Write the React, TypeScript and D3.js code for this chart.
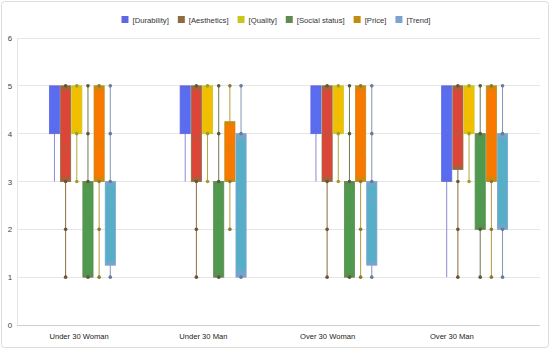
import React, { useEffect, useRef } from "react";
import * as d3 from "d3";

const groups = ["Under 30 Woman", "Under 30 Man", "Over 30 Woman", "Over 30 Man"];
const seriesNames = ["[Durability]", "[Aesthetics]", "[Quality]", "[Social status]", "[Price]", "[Trend]"];
const yTicks = [0, 1, 2, 3, 4, 5, 6];

// one row per group: [min, q1, q3, max, mean]
const durability = [[3, 4, 5, 5, 4.1], [3, 4, 5, 5, 4.2], [3, 4, 5, 5, 4.1], [1, 3, 5, 5, 3.95]];
const aesthetics = [[1, 3, 5, 5, 3.7], [1, 3, 5, 5, 3.9], [1, 3, 5, 5, 4.0], [1, 3.25, 5, 5, 4.0]];
const quality = [[3, 4, 5, 5, 4.1], [3, 4, 5, 5, 4.27], [3, 4, 5, 5, 4.27], [3, 4, 5, 5, 4.27]];
const socialStatus = [[1, 1, 3, 5, 2.15], [1, 1, 3, 5, 2.15], [1, 1, 3, 5, 2.25], [1, 2, 4, 5, 2.6]];
const price = [[1, 3, 5, 5, 3.8], [2, 3, 4.25, 5, 3.7], [1, 3, 5, 5, 3.6], [1, 3, 5, 5, 3.9]];
const trend = [[1, 1.25, 3, 5, 2.55], [1, 1, 4, 5, 2.6], [1, 1.25, 3, 5, 2.6], [1, 2, 4, 5, 2.8]];
const seriesData = [durability, aesthetics, quality, socialStatus, price, trend];

const legendColors = ["#5f68e0", "#8c6c40", "#c9c61e", "#5f8a50", "#c08c12", "#7ea2cf"];
const boxColors = ["#5a6cf0", "#dc4638", "#f4be00", "#4f9a4f", "#f87800", "#56afc6"];
const lineColors = ["#8a8ad8", "#8b6b3f", "#b2a838", "#6e7a52", "#b39a3c", "#8096b4"];
const dotColors = ["", "#6b5530", "#a29a2a", "#5a5a38", "#8a7a30", "#6a7a98"];

const App = () => {
  const ref = useRef<SVGSVGElement>(null);

  useEffect(() => {
    document.body.style.margin = "0";
    const width = 550;
    const height = 349;
    const plot = { left: 17, right: 540, top: 38, bottom: 325 };

    const svg = d3.select(ref.current);
    svg.selectAll("*").remove();
    svg.attr("width", width).attr("height", height).style("font-family", "'Liberation Sans', Arial, sans-serif");

    const defs = svg.append("defs");
    boxColors.forEach((c, i) => {
      const gr = defs.append("linearGradient").attr("id", "box" + i).attr("x1", 0).attr("x2", 0).attr("y1", 0).attr("y2", 1);
      gr.append("stop").attr("offset", "0%").attr("stop-color", legendColors[i]);
      gr.append("stop").attr("offset", "7%").attr("stop-color", c);
      gr.append("stop").attr("offset", "93%").attr("stop-color", c);
      gr.append("stop").attr("offset", "100%").attr("stop-color", legendColors[i]);
    });

    // frame
    svg.append("rect")
      .attr("x", 1.5).attr("y", 1.5).attr("width", width - 3).attr("height", height - 3)
      .attr("rx", 3).attr("fill", "#fff").attr("stroke", "#dcdcdc");

    const y = d3.scaleLinear().domain([0, 6]).range([plot.bottom, plot.top]);
    const x0 = d3.scaleBand().domain(groups).range([plot.left, plot.right]);
    const xLabel = d3.scaleBand().domain(groups).range([plot.left, 514]);
    const x1 = d3.scaleBand().domain(seriesNames).range([-33, 33]).paddingInner(0.09);

    // grid
    svg.append("g")
      .selectAll("line")
      .data(yTicks)
      .enter()
      .append("line")
      .attr("x1", plot.left).attr("x2", plot.right)
      .attr("y1", (d) => y(d)).attr("y2", (d) => y(d))
      .attr("stroke", (d) => (d === 0 ? "#cfcfcf" : "#e6e6e6"))
      .attr("stroke-width", 1)
      .attr("shape-rendering", "crispEdges");
    svg.append("line")
      .attr("x1", plot.left).attr("x2", plot.left)
      .attr("y1", plot.top).attr("y2", plot.bottom)
      .attr("stroke", "#e6e6e6").attr("shape-rendering", "crispEdges");

    // y labels
    svg.append("g")
      .selectAll("text")
      .data(yTicks)
      .enter()
      .append("text")
      .text((d) => d)
      .attr("x", 10)
      .attr("y", (d) => y(d) + 3)
      .attr("text-anchor", "middle")
      .attr("font-size", "8px")
      .attr("fill", "#444");

    // x labels
    svg.append("g")
      .selectAll("text")
      .data(groups)
      .enter()
      .append("text")
      .text((d) => d)
      .attr("x", (d) => (xLabel(d) as number) + xLabel.bandwidth() / 2)
      .attr("y", 339)
      .attr("text-anchor", "middle")
      .attr("font-size", "7.6px")
      .attr("fill", "#222");

    // boxes
    const bw = x1.bandwidth();
    groups.forEach((g, gi) => {
      const cx0 = (x0(g) as number) + x0.bandwidth() / 2;
      seriesNames.forEach((s, si) => {
        const [mn, q1, q3, mx, mean] = seriesData[si][gi];
        const left = cx0 + (x1(s) as number);
        const cx = left + bw / 2;
        const layer = svg.append("g");

        layer.append("line")
          .attr("x1", cx).attr("x2", cx).attr("y1", y(mx)).attr("y2", y(q3))
          .attr("stroke", lineColors[si]).attr("stroke-width", 1);
        layer.append("line")
          .attr("x1", cx).attr("x2", cx).attr("y1", y(q1)).attr("y2", y(mn))
          .attr("stroke", lineColors[si]).attr("stroke-width", 1);

        layer.append("rect")
          .attr("x", left).attr("y", y(q3))
          .attr("width", bw).attr("height", y(q1) - y(q3))
          .attr("fill", `url(#box${si})`)
          .attr("stroke", legendColors[si]).attr("stroke-width", 0.8);

        if (dotColors[si]) {
          const pts = d3.range(Math.ceil(mn), Math.floor(mx) + 1).filter((v) => v <= q1 || v >= q3);
          layer.selectAll("circle")
            .data(pts)
            .enter()
            .append("circle")
            .attr("cx", cx).attr("cy", (d) => y(d)).attr("r", 1.8)
            .attr("fill", dotColors[si]);
        }

        const my = y(mean);
        const k = 2.8;
        layer.append("path")
          .attr("d", `M${cx - k},${my - k}L${cx + k},${my + k}M${cx - k},${my + k}L${cx + k},${my - k}`)
          .attr("stroke", legendColors[si]).attr("stroke-width", 0.9).attr("fill", "none")
          .attr("opacity", 0.8);
      });
    });

    // legend
    const legend = svg.append("g");
    let offset = 0;
    seriesNames.forEach((s, i) => {
      const item = legend.append("g").attr("transform", `translate(${offset},0)`);
      item.append("rect").attr("x", 0).attr("y", 16).attr("width", 7).attr("height", 7).attr("fill", legendColors[i]);
      const t = item.append("text").text(s).attr("x", 11).attr("y", 22.5).attr("font-size", "7.7px").attr("fill", "#333");
      const w = (t.node() as SVGTextElement).getComputedTextLength();
      offset += 11 + w + 9;
    });
    const total = offset - 9;
    legend.attr("transform", `translate(${276 - total / 2},0)`);
  }, []);

  return <svg ref={ref} />;
};

export default App;
